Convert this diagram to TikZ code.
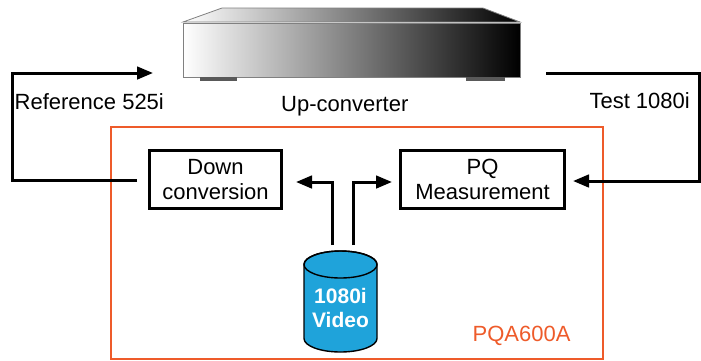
\documentclass[tikz,border=0pt]{standalone}
\usepackage{fontspec}
\setmainfont{Liberation Sans}
\usetikzlibrary{arrows.meta}
\definecolor{orng}{HTML}{EE5B2A}
\definecolor{cylblue}{HTML}{1FA3DA}
\begin{document}
\begin{tikzpicture}[x=1pt,y=-1pt,
  conn/.style={line width=3pt,-{Triangle[length=16pt,width=12.5pt]}},
  txt/.style={font=\fontsize{22}{25}\selectfont,inner sep=0pt},
  boxn/.style={draw,line width=3pt,align=center,inner sep=0pt,
    minimum height=58pt,font=\fontsize{22}{25}\selectfont}
]
\useasboundingbox (0,0) rectangle (701,360);

% up-converter device
\shade[left color=white,right color=black,draw=gray,line width=0.8pt]
  (183,22) -- (222,8) -- (483,8) -- (520,22) -- cycle;
\shade[left color=white,right color=black,draw=gray,line width=0.8pt]
  (183,23) rectangle (520,77);
\fill[black!65] (200,77) rectangle (237,80.5);
\fill[black!65] (466,77) rectangle (505,80.5);
\coordinate (uin) at (153,73);
\coordinate (uout) at (546,73);

% labels
\node[txt,anchor=base west] (ref) at (14.5,109) {Reference 525i};
\node[txt,anchor=base east] (test) at (690,108) {Test 1080i};
\node[txt,anchor=base west] (upc) at (281,111) {Up-converter};

% PQA600A frame
\draw[orng,line width=2.8pt] (111,127) rectangle (603,359);
\node[txt,anchor=base west,text=orng] (pqa) at (472.5,341) {PQA600A};

% boxes
\node[boxn,minimum width=132pt] (down) at (215.5,179.5) {Down\\conversion};
\node[boxn,minimum width=164pt] (pq) at (482.5,179.5) {PQ\\Measurement};

% cylinder
\fill[cylblue,draw=black,line width=1.4pt]
  (304,264.5) -- (304,338.5)
  arc[start angle=180,end angle=360,x radius=36.5pt,y radius=13.5pt]
  -- (377,264.5)
  arc[start angle=0,end angle=180,x radius=36.5pt,y radius=13.5pt] -- cycle;
\draw[line width=1.4pt] (340.5,264.5) ellipse [x radius=36.5pt,y radius=13.5pt];
\node[font=\bfseries\fontsize{21}{24}\selectfont,text=white,align=center,inner sep=0pt]
  (video) at (340.5,307.5) {1080i\\Video};

% connectors
\coordinate (vl) at (332,245);
\coordinate (vr) at (353,245);
\coordinate (dtip) at (296,182);
\coordinate (ptip) at (392,182);
\coordinate (dout) at (137,180);
\coordinate (pin) at (573,181);
\draw[conn] (vl) |- (dtip);
\draw[conn] (vr) |- (ptip);
\draw[conn] (dout) -- ++(-125,0) |- (uin);
\draw[conn] (uout) -- ++(153,0) |- (pin);
\end{tikzpicture}
\end{document}
